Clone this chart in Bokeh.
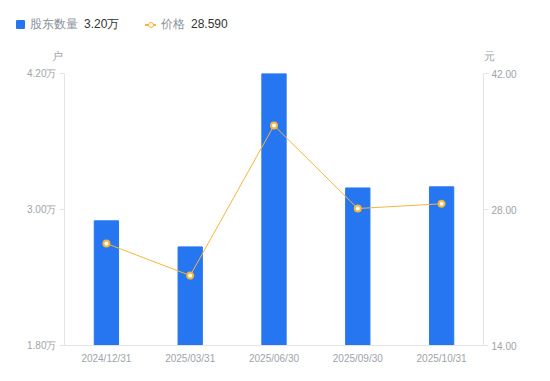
from bokeh.plotting import figure
from bokeh.models import (Range1d, FactorRange, LinearAxis, FixedTicker,
                          PrintfTickFormatter, ColumnDataSource, Div)
from bokeh.layouts import column
from bokeh.embed import file_html
from bokeh.resources import INLINE

# ---- data ----
dates = ["2024/12/31", "2025/03/31", "2025/06/30", "2025/09/30", "2025/10/31"]
holders = [2.90, 2.67, 4.20, 3.19, 3.20]      # 股东数量 (万户)
price = [24.5, 21.2, 36.65, 28.1, 28.59]       # 价格 (元)
holder_ticks = [1.80, 3.00, 4.20]
price_ticks = [14.00, 28.00, 42.00]

BLUE = "#2676F1"
ORANGE = "#F6B53C"
GRAY = "#9EA3AB"
LEGEND_GRAY = "#8A8F99"
AXIS = "#E3E4E8"
FONT = "Liberation Sans"

W = 534
HEAD_H = 64
MAIN_H = 308

# ---- header: legend and axis unit titles (HTML) ----
def span(left, top, css, txt=""):
    return f'<span style="position:absolute;left:{left}px;top:{top}px;{css}">{txt}</span>'

txt_css = f"font-family:'{FONT}';font-size:12px;line-height:14px;white-space:nowrap;"
unit_css = f"font-family:'{FONT}';font-size:11px;line-height:13px;color:{GRAY};white-space:nowrap;"
html = (f'<div style="position:relative;width:{W}px;height:{HEAD_H}px;">'
        + span(16, 20, f"width:9px;height:9px;background:{BLUE};border-radius:1px;")
        + span(30, 17, txt_css + f"color:{LEGEND_GRAY};", "股东数量")
        + span(84, 17, txt_css + "color:#333333;", f"{holders[-1]:.2f}万")
        + span(145, 24, f"width:11px;height:1.5px;background:{ORANGE};")
        + span(147.5, 21.5, f"box-sizing:border-box;width:6px;height:6px;border:1.8px solid {ORANGE};"
               "border-radius:50%;background:#ffffff;")
        + span(161, 17, txt_css + f"color:{LEGEND_GRAY};", "价格")
        + span(191, 17, txt_css + "color:#333333;", f"{price[-1]:.3f}")
        + span(52, 50, unit_css, "户")
        + span(484, 50, unit_css, "元")
        + "</div>")
head = Div(text=html, width=W, height=HEAD_H, margin=0, styles={"overflow": "visible"})

# ---- main chart ----
FL, FT, FR, FB = 64, 9, 483, 281   # frame edges inside the main canvas
p = figure(width=W, height=MAIN_H, x_range=FactorRange(*dates),
           y_range=Range1d(holder_ticks[0], holder_ticks[-1]),
           output_backend="svg", toolbar_location=None,
           min_border_left=FL, min_border_right=W - FR, min_border_top=FT,
           min_border_bottom=MAIN_H - FB, outline_line_color=None, margin=0)
p.extra_y_ranges = {"price": Range1d(price_ticks[0], price_ticks[-1])}
p.grid.visible = False

src = ColumnDataSource(dict(x=dates, h=holders, pr=price))
p.vbar(x="x", top="h", bottom=holder_ticks[0], width=0.29, source=src,
       fill_color=BLUE, line_color=BLUE)
p.line(x="x", y="pr", source=src, y_range_name="price", line_color=ORANGE, line_width=1)
p.scatter(x="x", y="pr", source=src, y_range_name="price", marker="circle", size=6,
          fill_color="white", line_color=ORANGE, line_width=2)

def style(ax):
    ax.axis_line_color = AXIS
    ax.major_tick_line_color = AXIS
    ax.minor_tick_line_color = None
    ax.major_tick_in = 0
    ax.major_tick_out = 5
    ax.major_label_text_color = GRAY
    ax.major_label_text_font = FONT
    ax.major_label_text_font_size = "10px"

ly = p.yaxis[0]
style(ly)
ly.ticker = FixedTicker(ticks=holder_ticks)
ly.formatter = PrintfTickFormatter(format="%.2f万")
ly.major_label_standoff = 3

ry = LinearAxis(y_range_name="price", ticker=FixedTicker(ticks=price_ticks),
                formatter=PrintfTickFormatter(format="%.2f"))
style(ry)
ry.major_label_standoff = 3
p.add_layout(ry, "right")

bx = p.xaxis[0]
style(bx)
bx.major_tick_out = 0
bx.major_tick_line_color = None
bx.major_label_standoff = 7

layout = column(head, p, spacing=0)
open("out.html", "w").write(file_html(layout, INLINE))
